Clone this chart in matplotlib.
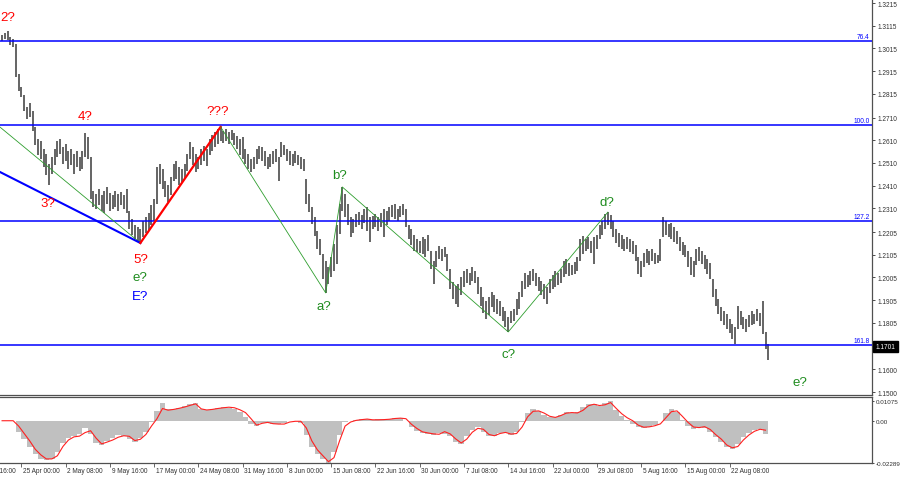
import matplotlib
matplotlib.use('Agg')
import matplotlib.pyplot as plt
from matplotlib.transforms import blended_transform_factory
import numpy as np

# ---------------- data (GBP/USD, H4 bars grouped by two) ----------------
bar_step = 2  # bar spacing in H4 periods
highs = [1.3074, 1.3083, 1.3092, 1.3065, 1.3056, 1.3034, 1.2902, 1.2845, 1.2810, 1.2757,
         1.2775, 1.2739, 1.2669, 1.2616, 1.2607, 1.2571, 1.2549, 1.2505, 1.2536, 1.2571,
         1.2607, 1.2616, 1.2580, 1.2593, 1.2562, 1.2571, 1.2549, 1.2562, 1.2536, 1.2562,
         1.2642, 1.2625, 1.2536, 1.2386, 1.2373, 1.2395, 1.2368, 1.2386, 1.2404, 1.2377,
         1.2368, 1.2386, 1.2373, 1.2382, 1.2368, 1.2395, 1.2298, 1.2263, 1.2236, 1.2228,
         1.2219, 1.2254, 1.2272, 1.2289, 1.2324, 1.2351, 1.2492, 1.2505, 1.2483, 1.2430,
         1.2413, 1.2448, 1.2505, 1.2518, 1.2492, 1.2483, 1.2505, 1.2549, 1.2603, 1.2580,
         1.2549, 1.2536, 1.2571, 1.2585, 1.2571, 1.2616, 1.2633, 1.2647, 1.2660, 1.2669,
         1.2651, 1.2660, 1.2647, 1.2655, 1.2642, 1.2629, 1.2616, 1.2625, 1.2571, 1.2549,
         1.2527, 1.2536, 1.2571, 1.2585, 1.2580, 1.2562, 1.2536, 1.2549, 1.2562, 1.2571,
         1.2536, 1.2603, 1.2589, 1.2571, 1.2562, 1.2549, 1.2562, 1.2545, 1.2536, 1.2527,
         1.2439, 1.2373, 1.2316, 1.2272, 1.2210, 1.2175, 1.2108, 1.2078, 1.2051, 1.2095,
         1.2153, 1.2236, 1.2329, 1.2404, 1.2373, 1.2329, 1.2272, 1.2263, 1.2285, 1.2293,
         1.2280, 1.2307, 1.2316, 1.2272, 1.2276, 1.2285, 1.2272, 1.2289, 1.2307, 1.2298,
         1.2316, 1.2324, 1.2329, 1.2307, 1.2320, 1.2329, 1.2307, 1.2236, 1.2219, 1.2193,
         1.2175, 1.2166, 1.2184, 1.2175, 1.2193, 1.2122, 1.2078, 1.2122, 1.2144, 1.2131,
         1.2140, 1.2108, 1.2042, 1.1985, 1.1967, 1.1976, 1.2007, 1.2034, 1.2042, 1.2025,
         1.2051, 1.2034, 1.2007, 1.1963, 1.1919, 1.1901, 1.1919, 1.1941, 1.1928, 1.1910,
         1.1901, 1.1875, 1.1857, 1.1831, 1.1857, 1.1866, 1.1910, 1.1941, 1.1989, 1.2025,
         1.2016, 1.2034, 1.2042, 1.2025, 1.2007, 1.1989, 1.1976, 1.1963, 1.1998, 1.2016,
         1.2034, 1.2025, 1.2042, 1.2078, 1.2086, 1.2069, 1.2060, 1.2073, 1.2095, 1.2175,
         1.2188, 1.2175, 1.2184, 1.2166, 1.2184, 1.2193, 1.2236, 1.2254, 1.2285, 1.2293,
         1.2280, 1.2254, 1.2219, 1.2201, 1.2193, 1.2175, 1.2184, 1.2175, 1.2166, 1.2149,
         1.2095, 1.2078, 1.2113, 1.2131, 1.2122, 1.2131, 1.2113, 1.2104, 1.2175, 1.2272,
         1.2254, 1.2241, 1.2245, 1.2228, 1.2210, 1.2184, 1.2161, 1.2149, 1.2122, 1.2095,
         1.2078, 1.2131, 1.2140, 1.2122, 1.2104, 1.2086, 1.2069, 1.1998, 1.1954, 1.1910,
         1.1875, 1.1857, 1.1844, 1.1822, 1.1800, 1.1787, 1.1879, 1.1857, 1.1831, 1.1822,
         1.1840, 1.1857, 1.1844, 1.1866, 1.1848, 1.1901, 1.1765, 1.1712]
lows = [1.3048, 1.3056, 1.3052, 1.3030, 1.3021, 1.2889, 1.2827, 1.2801, 1.2739, 1.2704,
        1.2713, 1.2651, 1.2589, 1.2545, 1.2527, 1.2492, 1.2457, 1.2413, 1.2461, 1.2501,
        1.2536, 1.2549, 1.2505, 1.2518, 1.2483, 1.2501, 1.2461, 1.2492, 1.2474, 1.2483,
        1.2536, 1.2527, 1.2351, 1.2316, 1.2307, 1.2324, 1.2298, 1.2289, 1.2329, 1.2298,
        1.2307, 1.2316, 1.2298, 1.2324, 1.2307, 1.2289, 1.2219, 1.2193, 1.2175, 1.2166,
        1.2161, 1.2184, 1.2201, 1.2210, 1.2236, 1.2254, 1.2329, 1.2417, 1.2395, 1.2360,
        1.2338, 1.2368, 1.2430, 1.2439, 1.2413, 1.2426, 1.2439, 1.2474, 1.2527, 1.2501,
        1.2470, 1.2483, 1.2501, 1.2518, 1.2496, 1.2545, 1.2562, 1.2580, 1.2593, 1.2607,
        1.2598, 1.2607, 1.2593, 1.2611, 1.2589, 1.2571, 1.2545, 1.2527, 1.2505, 1.2483,
        1.2470, 1.2483, 1.2505, 1.2527, 1.2518, 1.2496, 1.2483, 1.2492, 1.2505, 1.2514,
        1.2430, 1.2536, 1.2545, 1.2518, 1.2501, 1.2496, 1.2510, 1.2501, 1.2483, 1.2474,
        1.2329, 1.2293, 1.2241, 1.2188, 1.2131, 1.2104, 1.1998, 1.1937, 1.1976, 1.2007,
        1.2034, 1.2064, 1.2197, 1.2298, 1.2272, 1.2236, 1.2184, 1.2201, 1.2228, 1.2236,
        1.2219, 1.2245, 1.2210, 1.2161, 1.2219, 1.2228, 1.2210, 1.2228, 1.2184, 1.2236,
        1.2254, 1.2272, 1.2263, 1.2254, 1.2272, 1.2280, 1.2228, 1.2175, 1.2149, 1.2122,
        1.2117, 1.2113, 1.2108, 1.2095, 1.2122, 1.2042, 1.1976, 1.2051, 1.2086, 1.2078,
        1.2095, 1.2034, 1.1954, 1.1910, 1.1888, 1.1875, 1.1928, 1.1963, 1.1980, 1.1972,
        1.1989, 1.1980, 1.1932, 1.1879, 1.1848, 1.1822, 1.1840, 1.1875, 1.1853, 1.1844,
        1.1835, 1.1813, 1.1787, 1.1765, 1.1804, 1.1813, 1.1840, 1.1866, 1.1919, 1.1954,
        1.1963, 1.1972, 1.1989, 1.1967, 1.1945, 1.1928, 1.1910, 1.1888, 1.1937, 1.1954,
        1.1963, 1.1972, 1.1980, 1.2007, 1.2020, 1.2011, 1.2016, 1.2020, 1.2034, 1.2078,
        1.2108, 1.2122, 1.2131, 1.2113, 1.2064, 1.2131, 1.2175, 1.2193, 1.2219, 1.2236,
        1.2219, 1.2184, 1.2157, 1.2140, 1.2131, 1.2122, 1.2131, 1.2117, 1.2108, 1.2078,
        1.2020, 1.2007, 1.2051, 1.2069, 1.2060, 1.2078, 1.2064, 1.2069, 1.2078, 1.2184,
        1.2193, 1.2184, 1.2175, 1.2161, 1.2153, 1.2122, 1.2104, 1.2095, 1.2051, 1.2016,
        1.2007, 1.2060, 1.2078, 1.2064, 1.2042, 1.2020, 1.1998, 1.1919, 1.1879, 1.1844,
        1.1813, 1.1796, 1.1778, 1.1760, 1.1734, 1.1712, 1.1778, 1.1796, 1.1778, 1.1765,
        1.1787, 1.1796, 1.1800, 1.1813, 1.1791, 1.1756, 1.1690, 1.1641]
last_close = 1.1701

# MACD-type oscillator, sampled every 4 H4 periods
osc_step = 4
osc_main = [0.0000, 0.0000, -0.0005, -0.0060, -0.0100, -0.0140, -0.0180, -0.0205, -0.0215, -0.0210,
            -0.0170, -0.0120, -0.0095, -0.0085, -0.0075, -0.0040, -0.0070, -0.0120, -0.0130, -0.0110,
            -0.0095, -0.0080, -0.0085, -0.0100, -0.0115, -0.0095, -0.0060, -0.0010, 0.0050, 0.0095,
            0.0060, 0.0060, 0.0070, 0.0080, 0.0090, 0.0095, 0.0060, 0.0055, 0.0062, 0.0068,
            0.0072, 0.0070, 0.0062, 0.0045, 0.0020, -0.0020, -0.0030, -0.0012, -0.0012, -0.0020,
            -0.0018, -0.0012, -0.0004, -0.0003, -0.0015, -0.0080, -0.0140, -0.0180, -0.0210, -0.0229,
            -0.0170, -0.0080, -0.0010, 0.0000, 0.0005, 0.0008, 0.0008, 0.0005, 0.0006, 0.0008,
            0.0010, 0.0014, 0.0013, -0.0005, -0.0035, -0.0055, -0.0068, -0.0072, -0.0078, -0.0065,
            -0.0070, -0.0085, -0.0115, -0.0125, -0.0085, -0.0050, -0.0035, -0.0060, -0.0085, -0.0082,
            -0.0068, -0.0068, -0.0078, -0.0060, -0.0010, 0.0040, 0.0060, 0.0050, 0.0032, 0.0018,
            0.0020, 0.0032, 0.0045, 0.0040, 0.0045, 0.0075, 0.0088, 0.0090, 0.0080, 0.0095,
            0.0105, 0.0055, 0.0025, 0.0005, -0.0020, -0.0035, -0.0040, -0.0035, -0.0025, 0.0000,
            0.0040, 0.0060, 0.0045, 0.0005, -0.0030, -0.0045, -0.0035, -0.0038, -0.0060, -0.0090,
            -0.0115, -0.0145, -0.0152, -0.0125, -0.0090, -0.0068, -0.0050, -0.0045, -0.0075]
osc_signal = [-0.0001, -0.0001, -0.0001, -0.0030, -0.0070, -0.0110, -0.0155, -0.0185, -0.0207, -0.0207,
              -0.0190, -0.0140, -0.0105, -0.0088, -0.0084, -0.0065, -0.0055, -0.0095, -0.0126, -0.0116,
              -0.0105, -0.0090, -0.0082, -0.0085, -0.0108, -0.0101, -0.0075, -0.0030, 0.0010, 0.0065,
              0.0056, 0.0060, 0.0066, 0.0073, 0.0082, 0.0090, 0.0063, 0.0057, 0.0060, 0.0065,
              0.0069, 0.0072, 0.0069, 0.0058, 0.0043, 0.0010, -0.0025, -0.0015, -0.0010, -0.0017,
              -0.0019, -0.0019, -0.0008, -0.0004, -0.0004, -0.0040, -0.0110, -0.0158, -0.0190, -0.0222,
              -0.0200, -0.0110, -0.0030, -0.0008, 0.0001, 0.0005, 0.0008, 0.0004, 0.0004, 0.0005,
              0.0007, 0.0011, 0.0013, 0.0010, -0.0020, -0.0043, -0.0061, -0.0067, -0.0072, -0.0074,
              -0.0060, -0.0072, -0.0099, -0.0121, -0.0100, -0.0063, -0.0042, -0.0047, -0.0075, -0.0082,
              -0.0070, -0.0064, -0.0073, -0.0070, -0.0035, 0.0020, 0.0050, 0.0052, 0.0040, 0.0023,
              0.0017, 0.0027, 0.0040, 0.0043, 0.0041, 0.0055, 0.0080, 0.0088, 0.0081, 0.0085,
              0.0097, 0.0066, 0.0037, 0.0015, -0.0001, -0.0025, -0.0036, -0.0034, -0.0028, -0.0018,
              0.0015, 0.0048, 0.0052, 0.0022, -0.0010, -0.0035, -0.0038, -0.0033, -0.0048, -0.0076,
              -0.0100, -0.0132, -0.0147, -0.0140, -0.0105, -0.0078, -0.0058, -0.0047, -0.0052]

fib_levels = [1.3048, 1.2677, 1.2254, 1.1707]
fib_labels = ['76.4', '100.0', '127.2', '161.8']

price_ticks = [1.3215, 1.3115, 1.3015, 1.2915, 1.2815, 1.2710, 1.2610, 1.2510, 1.2410,
               1.2310, 1.2205, 1.2105, 1.2005, 1.1905, 1.1805, 1.1600, 1.1500]
osc_ticks = [0.01075, 0.0, -0.02289]
osc_tick_labels = ['0.01075', '0.00', '-0.02289']

time_tick_pos = [-18, 14, 46, 78, 110, 142, 174, 206, 238, 270, 302, 334, 366, 398, 430, 462, 494, 526]
time_tick_labels = ['15 Apr 16:00', '25 Apr 00:00', '2 May 08:00', '9 May 16:00', '17 May 00:00',
                    '24 May 08:00', '31 May 16:00', '8 Jun 00:00', '15 Jun 08:00', '22 Jun 16:00',
                    '30 Jun 00:00', '7 Jul 08:00', '14 Jul 16:00', '22 Jul 00:00', '29 Jul 08:00',
                    '5 Aug 16:00', '15 Aug 00:00', '22 Aug 08:00']

# wave lines: (x in H4 periods, price)
blue_line_x, blue_line_y = [-1.5, 100], [1.2470, 1.2157]
green_pre_x, green_pre_y = [-1.5, 100], [1.2668, 1.2157]
red_line_x, red_line_y = [100, 158], [1.2157, 1.2669]
green_wave_x = [158, 234, 246, 366, 438]
green_wave_y = [1.2669, 1.1937, 1.2404, 1.1765, 1.2293]

RED, GREEN, BLUE = '#ff0000', '#1e8c1e', '#0000ff'
wave_labels = [('2?', 4, 1.3153, RED), ('4?', 60, 1.2717, RED), ('???', 156, 1.2739, RED),
               ('3?', 33, 1.2333, RED), ('5?', 100, 1.2086, RED), ('e?', 100, 1.2007, GREEN),
               ('E?', 100, 1.1923, BLUE), ('a?', 233, 1.1879, GREEN), ('b?', 244, 1.2457, GREEN),
               ('c?', 366, 1.1668, GREEN), ('d?', 437, 1.2338, GREEN), ('e?', 577, 1.1544, GREEN)]

# ---------------- drawing ----------------
FONT = ['Liberation Sans', 'DejaVu Sans']
plt.rcParams['font.family'] = FONT

W, H = 900, 485
fig = plt.figure(figsize=(W / 100, H / 100), dpi=100)
fig.patch.set_facecolor('white')
ax = fig.add_axes([0, 89 / H, 872 / W, 396 / H])
ax2 = fig.add_axes([0, 21 / H, 872 / W, 66 / H])

XLIM = (-1.5, 629)
for a in (ax, ax2):
    a.set_xlim(*XLIM)
    a.set_facecolor('white')
    a.spines['left'].set_visible(False)
    for s in ('right', 'bottom', 'top'):
        a.spines[s].set_color('#505050')
        a.spines[s].set_linewidth(0.9)
ax.spines['top'].set_visible(False)

# price bars
xb = np.arange(len(highs)) * bar_step
ax.vlines(xb, lows, highs, colors='#585858', linewidth=1.3)
ax.set_ylim(1.14868, 1.32328)

# fib horizontal lines
for lvl, lab in zip(fib_levels, fib_labels):
    ax.axhline(lvl, color=BLUE, linewidth=1.1, zorder=3)
    ax.text(0.9975, lvl + 0.0004, lab, transform=blended_transform_factory(ax.transAxes, ax.transData),
            ha='right', va='bottom', color=BLUE, fontsize=4.7, family=FONT)

# wave lines
ax.plot(green_pre_x, green_pre_y, color='#2e9e2e', linewidth=0.6, zorder=4)
ax.plot(blue_line_x, blue_line_y, color=BLUE, linewidth=1.5, zorder=4)
ax.plot(red_line_x, red_line_y, color=RED, linewidth=1.6, zorder=4)
ax.plot(green_wave_x, green_wave_y, color='#2e9e2e', linewidth=0.6, zorder=4)

for txt, xx, yy, col in wave_labels:
    ax.text(xx, yy, txt, color=col, fontsize=9.5, ha='center', va='center', family=FONT, zorder=5)

# right price axis
ax.yaxis.tick_right()
ax.set_yticks(price_ticks)
ax.set_yticklabels([f'{p:.4f}' for p in price_ticks])
ax.tick_params(axis='y', direction='out', length=2, width=0.6, pad=2, labelsize=4.7,
               colors='#303030')
ax.set_xticks([])

# current price marker
ax.text(1.004, last_close, f'{last_close:.4f}', transform=blended_transform_factory(ax.transAxes, ax.transData),
        ha='left', va='center', color='white', fontsize=4.7, family=FONT, clip_on=False,
        bbox=dict(boxstyle='square,pad=0.35', facecolor='black', edgecolor='black'))

# oscillator
xo = np.arange(len(osc_main)) * osc_step
ax2.bar(xo, osc_main, width=osc_step, color='#c0c0c0', linewidth=0, align='center')
ax2.plot(xo, osc_signal, color='#ff2020', linewidth=0.8)
ax2.set_ylim(-0.0229, 0.0127)
ax2.yaxis.tick_right()
ax2.set_yticks(osc_ticks)
ax2.set_yticklabels(osc_tick_labels)
ax2.tick_params(axis='y', direction='out', length=1.5, width=0.6, pad=1, labelsize=4.5,
                colors='#303030')
ax2.set_xticks([t for t in time_tick_pos if t >= XLIM[0]])
ax2.set_xticklabels([])
ax2.tick_params(axis='x', direction='out', length=3, width=0.6, colors='#505050')

tr = blended_transform_factory(ax2.transData, ax2.transAxes)
for pos, lab in zip(time_tick_pos, time_tick_labels):
    ax2.text(pos + 1.2, -0.06, lab, transform=tr, ha='left', va='top', fontsize=4.7,
             color='#303030', family=FONT, clip_on=False)

fig.savefig('out.png', dpi=100, facecolor='white')
